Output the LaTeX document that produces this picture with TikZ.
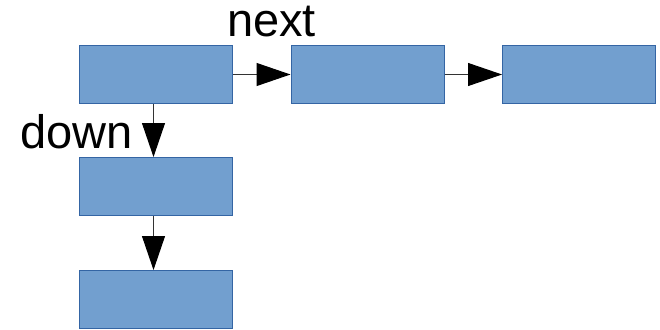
\documentclass[tikz,border=0pt]{standalone}
\usepackage{fontspec}
\setmainfont{Liberation Sans}
\usetikzlibrary{arrows.meta}
\definecolor{boxfill}{HTML}{729FCF}
\definecolor{boxline}{HTML}{3465A4}
\begin{document}
\begin{tikzpicture}[x=1pt,y=-1pt,
  cell/.style={draw=boxline,fill=boxfill,line width=1pt,minimum width=153pt,minimum height=58pt,inner sep=0pt,anchor=north west},
  link/.style={draw=black!80,line width=1pt,-{Triangle[length=34pt,width=23pt,color=black]}},
  lbl/.style={font=\fontsize{47}{47}\selectfont,inner sep=0pt,anchor=base west}]
\useasboundingbox (0,0) rectangle (660,329);
\node[cell] (a) at (79,45) {};
\node[cell] (b) at (290.5,45) {};
\node[cell] (c) at (502,45) {};
\node[cell] (d) at (79,157) {};
\node[cell] (e) at (79,270) {};
\draw[link] (a.east) -- (b.west);
\draw[link] (b.east) -- (c.west);
\draw[link] ([xshift=-2.5pt]a.south) -- ([xshift=-2.5pt]d.north);
\draw[link] ([xshift=-2.5pt]d.south) -- ([xshift=-2.5pt]e.north);
\node[lbl] (nx) at (227,37) {next};
\node[lbl] (dn) at (20,148) {down};
\end{tikzpicture}
\end{document}
